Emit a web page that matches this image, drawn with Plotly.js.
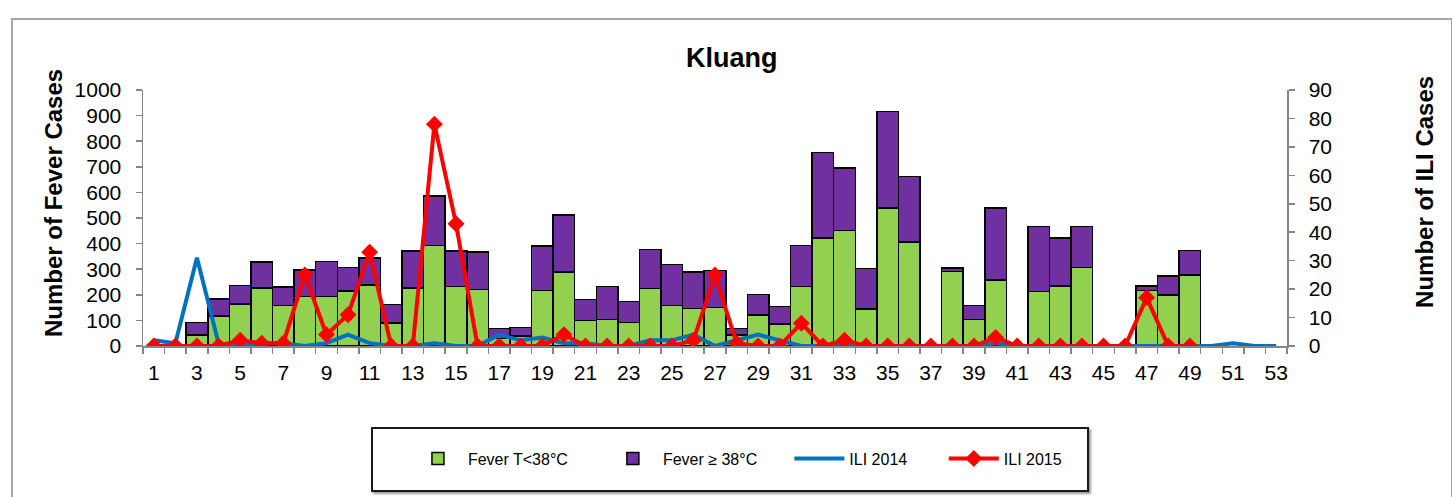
<!DOCTYPE html>
<html>
<head>
<meta charset="utf-8">
<script src="https://cdn.plot.ly/plotly-3.0.1.min.js"></script>
<style>
  html, body { margin: 0; padding: 0; background: #fff; overflow: hidden; }
  #wrap { position: relative; width: 1452px; height: 497px; overflow: hidden; }
  #chart { position: absolute; left: 0; top: 0; width: 1452px; height: 497px; }
  #frame { position: absolute; left: 11px; top: 18px; width: 1438px; height: 600px;
           border: 2px solid #a6a6a6; pointer-events: none; }
  #legbox { position: absolute; left: 371px; top: 427px; width: 714px; height: 61px;
            border: 2px solid #1a1a1a; box-shadow: 2px 2px 2px #9a9a9a; pointer-events: none; }
</style>
</head>
<body>
<div id="wrap">
  <div id="chart"></div>
  <div id="frame"></div>
  <div id="legbox"></div>
</div>
<script>
// ---- data ----
const weeks = Array.from({length: 53}, (_, i) => i + 1);

// Fever T<38°C (green, bottom of stack), weeks 1..53
const feverLow = [null, null, 43, 117, 164, 227, 158, 193, 193, 214,
                  238, 89, 227, 392, 232, 220, 30, 39, 216, 290,
                  99, 104, 91, 225, 158, 146, 150, 43, 122, 86,
                  232, 422, 451, 145, 540, 406, null, 292, 104, 258,
                  null, 212, 234, 307, null, null, 217, 199, 277, null,
                  null, null, null];

// Fever >= 38°C (purple, top of stack), weeks 1..53
const feverHigh = [null, null, 49, 67, 72, 102, 72, 103, 138, 93,
                   106, 74, 145, 194, 139, 148, 39, 34, 175, 222,
                   82, 129, 83, 151, 161, 144, 144, 26, 80, 68,
                   160, 333, 244, 157, 377, 257, null, 13, 54, 282,
                   null, 254, 188, 159, null, null, 17, 74, 97, null,
                   null, null, null];

// ILI 2014 (blue line, right axis), weeks 1..53
const ili2014 = [2, 1, 31, 1, 0, 1, 1, 0, 1, 4,
                 1, 0, 0, 1, 0, 0, 4, 2, 3, 1,
                 1, 0, 0, 2, 2, 4, 0, 2, 4, 2,
                 0, 0, 0, 0, 0, 0, 0, 0, 0, 1,
                 0, 0, 0, 0, 0, 0, 0, 0, 0, 0,
                 1, 0, 0];

// ILI 2015 (red line with diamonds, right axis), weeks 1..49
const weeks2015 = weeks.slice(0, 49);
const ili2015 = [0, 0, 0, 0, 2, 1, 1, 25, 4, 11,
                 33, 0, 0, 78, 43, 0, 0, 0, 0, 4,
                 0, 0, 0, 0, 0, 2, 25, 1, 0, 0,
                 8, 0, 2, 0, 0, 0, 0, 0, 0, 3,
                 0, 0, 0, 0, 0, 0, 17, 0, 0];

const xTickVals = weeks.filter(w => w % 2 === 1);
const xTickText = xTickVals.map(String);

// ---- chart ----
const FONT = 'Liberation Sans, Arial, sans-serif';
const AXIS_GRAY = '#868686';

const traces = [
  {
    type: 'bar', name: 'Fever T&lt;38°C', x: weeks, y: feverLow,
    marker: {color: '#92D050', line: {color: '#000', width: 1.5}},
    legend: 'legend', showlegend: true
  },
  {
    type: 'bar', name: 'Fever ≥ 38°C', x: weeks, y: feverHigh,
    marker: {color: '#7030A0', line: {color: '#000', width: 1.5}},
    legend: 'legend2', showlegend: true
  },
  {
    type: 'scatter', mode: 'lines', name: 'ILI 2014', x: weeks, y: ili2014,
    yaxis: 'y2', line: {color: '#0070C0', width: 4},
    legend: 'legend3', showlegend: true
  },
  {
    type: 'scatter', mode: 'lines+markers', name: 'ILI 2015', x: weeks2015, y: ili2015,
    yaxis: 'y2', line: {color: '#FF0000', width: 4},
    marker: {symbol: 'diamond', size: 13, color: '#FF0000'},
    legend: 'legend4', showlegend: true
  }
];

const legFont = {family: FONT, size: 16, color: '#000'};
function leg(x) {
  return {x: x, xanchor: 'left', y: -0.44, yanchor: 'middle', orientation: 'h', visible: true,
          font: legFont, bgcolor: 'rgba(0,0,0,0)', borderwidth: 0, itemwidth: 50};
}

const layout = {
  width: 1452, height: 497,
  margin: {l: 143, r: 165, t: 90, b: 151},
  paper_bgcolor: '#fff', plot_bgcolor: '#fff',
  font: {family: FONT, color: '#000'},
  showlegend: true,
  barmode: 'stack', bargap: 0,
  title: {text: '<b>Kluang</b>', x: 0.504, xanchor: 'center', y: 0.885, yanchor: 'middle',
          font: {family: FONT, size: 27, color: '#000'}},
  xaxis: {
    range: [0.5, 53.5], tickmode: 'array', tickvals: xTickVals, ticktext: xTickText,
    ticks: '', showgrid: false, zeroline: false,
    showline: true, linecolor: AXIS_GRAY, linewidth: 1.5,
    tickfont: {family: FONT, size: 21, color: '#000'}, ticklabelstandoff: 7,
    minor: {ticks: 'outside', ticklen: 6, tickcolor: AXIS_GRAY, tickwidth: 1.5,
            tickmode: 'linear', tick0: 0.5, dtick: 1, showgrid: false}
  },
  yaxis: {
    range: [0, 1000], tickmode: 'linear', tick0: 0, dtick: 100,
    ticks: 'outside', ticklen: 6, tickcolor: AXIS_GRAY, tickwidth: 1.5,
    showline: true, linecolor: AXIS_GRAY, linewidth: 1.5,
    showgrid: false, zeroline: false,
    tickfont: {family: FONT, size: 21, color: '#000'}, ticklabelstandoff: 10
  },
  yaxis2: {
    range: [0, 90], tickmode: 'linear', tick0: 0, dtick: 10,
    overlaying: 'y', side: 'right',
    ticks: 'outside', ticklen: 6, tickcolor: AXIS_GRAY, tickwidth: 1.5,
    showline: true, linecolor: AXIS_GRAY, linewidth: 1.5,
    showgrid: false, zeroline: false,
    tickfont: {family: FONT, size: 21, color: '#000'}, ticklabelstandoff: 10
  },
  legend: leg(0.2316),
  legend2: leg(0.402),
  legend3: leg(0.565),
  legend4: leg(0.70),
  annotations: [
    {text: '<b>Number of Fever Cases</b>', textangle: -90, xref: 'paper', yref: 'paper',
     x: -0.0778, y: 0.5586, xanchor: 'center', yanchor: 'middle', showarrow: false,
     font: {family: FONT, size: 24, color: '#000'}},
    {text: '<b>Number of ILI Cases</b>', textangle: -90, xref: 'paper', yref: 'paper',
     x: 1.1206, y: 0.6016, xanchor: 'center', yanchor: 'middle', showarrow: false,
     font: {family: FONT, size: 24, color: '#000'}}
  ]
};

Plotly.newPlot('chart', traces, layout, {displayModeBar: false, staticPlot: true});
</script>
</body>
</html>
